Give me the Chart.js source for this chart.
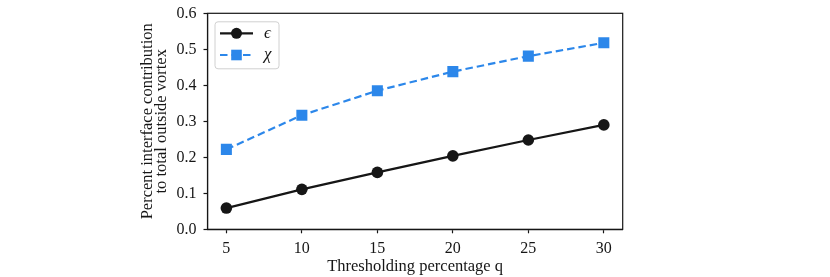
<!DOCTYPE html>
<html>
<head>
<meta charset="utf-8">
<script src="https://cdn.jsdelivr.net/npm/chart.js@4"></script>
<style>
  html, body { margin: 0; padding: 0; background: #fff; }
  #wrap { width: 830px; height: 277px; }
</style>
</head>
<body>
<div id="wrap"><canvas id="chart" width="830" height="277"></canvas></div>
<script>
// data
const qValues = [5, 10, 15, 20, 25, 30];
const epsilonValues = [0.059, 0.111, 0.158, 0.204, 0.248, 0.290];
const chiValues = [0.222, 0.317, 0.385, 0.438, 0.481, 0.518];
const seriesNames = ["ϵ", "χ"];
const xTicks = [5, 10, 15, 20, 25, 30];
const yTicks = [0, 0.1, 0.2, 0.3, 0.4, 0.5, 0.6];

const serif = "'Liberation Serif', 'DejaVu Serif', serif";
const black = "#161616";
const blue = "#2c87ea";

function toPoints(xs, ys) {
  return xs.map((x, i) => ({ x: x, y: ys[i] }));
}

// frame around the plot + legend box inside top left
const framePlugin = {
  id: "frame",
  afterDatasetsDraw(chart) {
    const { ctx, chartArea: a } = chart;
    ctx.save();
    ctx.strokeStyle = black;
    ctx.lineWidth = 1.2;
    ctx.strokeRect(a.left, a.top, a.right - a.left, a.bottom - a.top);

    // legend
    const bx = a.left + 7.5, by = a.top + 8.5, bw = 64, bh = 47;
    ctx.beginPath();
    ctx.roundRect(bx, by, bw, bh, 3);
    ctx.fillStyle = "rgba(255,255,255,0.8)";
    ctx.fill();
    ctx.strokeStyle = "#d0d0d0";
    ctx.lineWidth = 1;
    ctx.stroke();

    chart.data.datasets.forEach((ds, i) => {
      const y = by + 11.5 + i * 21.7;
      const x0 = bx + 5, x1 = bx + 38, mx = (x0 + x1) / 2;
      ctx.beginPath();
      ctx.setLineDash(ds.borderDash || []);
      ctx.strokeStyle = ds.borderColor;
      ctx.lineWidth = ds.borderWidth;
      ctx.moveTo(x0, y);
      ctx.lineTo(x1, y);
      ctx.stroke();
      ctx.setLineDash([]);
      ctx.fillStyle = ds.pointBackgroundColor;
      if (ds.pointStyle === "rect") {
        ctx.fillRect(mx - 5.3, y - 5.3, 10.6, 10.6);
      } else {
        ctx.beginPath();
        ctx.arc(mx, y, 5.5, 0, Math.PI * 2);
        ctx.fill();
      }
      ctx.fillStyle = black;
      ctx.font = "italic 17px " + serif;
      ctx.textBaseline = "middle";
      ctx.fillText(ds.label, bx + 49, y);
    });
    ctx.restore();
  }
};

new Chart(document.getElementById("chart"), {
  type: "line",
  data: {
    datasets: [
      {
        label: seriesNames[0],
        data: toPoints(qValues, epsilonValues),
        borderColor: black,
        backgroundColor: black,
        pointBackgroundColor: black,
        pointBorderWidth: 0,
        borderWidth: 2.2,
        pointStyle: "circle",
        pointRadius: 5.8,
        tension: 0
      },
      {
        label: seriesNames[1],
        data: toPoints(qValues, chiValues),
        borderColor: blue,
        backgroundColor: blue,
        pointBackgroundColor: blue,
        pointBorderWidth: 0,
        borderWidth: 2.2,
        borderDash: [7.5, 4],
        pointStyle: "rect",
        pointRadius: 7.8,
        tension: 0
      }
    ]
  },
  options: {
    responsive: false,
    animation: false,
    layout: { padding: { left: 140.5, right: 207.3, top: 13.3, bottom: 0 } },
    plugins: {
      legend: { display: false },
      tooltip: { enabled: false }
    },
    scales: {
      x: {
        type: "linear",
        min: 3.75,
        max: 31.25,
        afterBuildTicks: (s) => { s.ticks = xTicks.map(v => ({ value: v })); },
        afterFit: (s) => { s.height = 47.7; s.paddingLeft = 0; s.paddingRight = 0; },
        grid: { drawOnChartArea: false, tickLength: 4, tickColor: black, tickWidth: 1.2 },
        border: { color: black, width: 1.2 },
        ticks: {
          color: black,
          font: { family: serif, size: 16 },
          padding: 6,
          maxRotation: 0
        },
        title: {
          display: true,
          text: "Thresholding percentage q",
          color: black,
          font: { family: serif, size: 16.5, lineHeight: "15px" },
          padding: { top: 0, bottom: 3 }
        }
      },
      y: {
        min: 0,
        max: 0.6,
        afterBuildTicks: (s) => { s.ticks = yTicks.map(v => ({ value: v })); },
        afterFit: (s) => { s.width = 67; s.paddingTop = 0; s.paddingBottom = 0; },
        grid: { drawOnChartArea: false, tickLength: 4, tickColor: black, tickWidth: 1.2 },
        border: { color: black, width: 1.2 },
        ticks: {
          color: black,
          font: { family: serif, size: 16 },
          padding: 7,
          callback: (v) => Number(v).toFixed(1)
        },
        title: {
          display: true,
          text: ["Percent interface contribution", "to total outside vortex"],
          color: black,
          font: { family: serif, size: 16.5, lineHeight: "14px" },
          padding: { top: 0, bottom: 0 }
        }
      }
    }
  },
  plugins: [framePlugin]
});
</script>
</body>
</html>
